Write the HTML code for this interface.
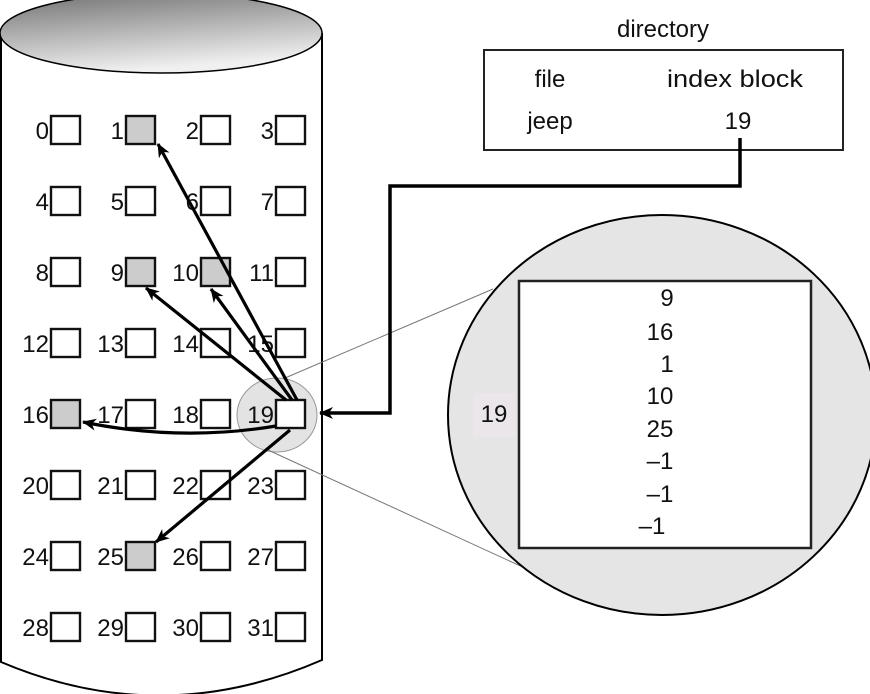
<!DOCTYPE html>
<html><head><meta charset="utf-8"><style>
html,body{margin:0;padding:0;background:#fff;}
svg{display:block;}
text{font-family:"Liberation Sans",sans-serif;font-size:24px;fill:#111;}
</style></head><body>
<svg width="870" height="694" viewBox="0 0 870 694" xmlns="http://www.w3.org/2000/svg">
<defs>
<linearGradient id="g" x1="0" y1="0" x2="0.3" y2="1">
<stop offset="0" stop-color="#707070"/><stop offset="1" stop-color="#f0f0f0"/>
</linearGradient>
<marker id="ah" markerWidth="14" markerHeight="12" refX="13" refY="6" orient="auto" markerUnits="userSpaceOnUse">
<path d="M0,0 L14,6 L0,12 L4,6 Z" fill="#000"/>
</marker>
<marker id="ah2" markerWidth="14" markerHeight="12" refX="13" refY="6" orient="auto" markerUnits="userSpaceOnUse">
<path d="M0,0 L14,6 L0,12 L4,6 Z" fill="#000"/>
</marker>
</defs>
<path d="M1,35 L1,662 Q161,730 322,660 L322,33" fill="none" stroke="#000" stroke-width="2"/>
<ellipse cx="161" cy="33" rx="161" ry="40" fill="url(#g)" stroke="#000" stroke-width="1.5"/>

<ellipse cx="277" cy="415" rx="40" ry="37" fill="#e3e3e3" stroke="#999" stroke-width="1"/>
<line x1="285" y1="378" x2="493" y2="289" stroke="#777" stroke-width="1"/>
<line x1="268" y1="450" x2="540" y2="575" stroke="#777" stroke-width="1"/>

<ellipse cx="662" cy="415" rx="214" ry="200" fill="#e5e5e5" stroke="#000" stroke-width="2"/>
<rect x="473" y="393" width="42" height="44" fill="#ebe6e9"/>
<text x="494" y="422" text-anchor="middle">19</text>
<rect x="519" y="281" width="292" height="267" fill="#fff" stroke="#222" stroke-width="2.5"/>
<g text-anchor="middle">
<text x="667" y="306">9</text>
<text x="660" y="340">16</text>
<text x="667" y="372">1</text>
<text x="660" y="404">10</text>
<text x="660" y="437">25</text>
<text x="660" y="469">–1</text>
<text x="660" y="502">–1</text>
<text x="652" y="534">–1</text>
</g>

<text x="663" y="37" text-anchor="middle">directory</text>
<rect x="484" y="50" width="359" height="100" fill="none" stroke="#222" stroke-width="2"/>
<text x="550" y="87" text-anchor="middle">file</text>
<text x="667" y="87" textLength="136" lengthAdjust="spacingAndGlyphs">index block</text>
<text x="550" y="129" text-anchor="middle">jeep</text>
<text x="738" y="129" text-anchor="middle">19</text>
<polyline points="740,138 740,186 390,186 390,413 320,413" fill="none" stroke="#000" stroke-width="3.5" marker-end="url(#ah2)"/>

<g stroke="#111" stroke-width="2.4">
<rect x="51" y="116" width="29" height="28" fill="#fff"/><rect x="126" y="116" width="29" height="28" fill="#ccc"/><rect x="201" y="116" width="29" height="28" fill="#fff"/><rect x="276" y="116" width="29" height="28" fill="#fff"/>
<rect x="51" y="187" width="29" height="28" fill="#fff"/><rect x="126" y="187" width="29" height="28" fill="#fff"/><rect x="201" y="187" width="29" height="28" fill="#fff"/><rect x="276" y="187" width="29" height="28" fill="#fff"/>
<rect x="51" y="258" width="29" height="28" fill="#fff"/><rect x="126" y="258" width="29" height="28" fill="#ccc"/><rect x="201" y="258" width="29" height="28" fill="#ccc"/><rect x="276" y="258" width="29" height="28" fill="#fff"/>
<rect x="51" y="329" width="29" height="28" fill="#fff"/><rect x="126" y="329" width="29" height="28" fill="#fff"/><rect x="201" y="329" width="29" height="28" fill="#fff"/><rect x="276" y="329" width="29" height="28" fill="#fff"/>
<rect x="51" y="400" width="29" height="28" fill="#ccc"/><rect x="126" y="400" width="29" height="28" fill="#fff"/><rect x="201" y="400" width="29" height="28" fill="#fff"/><rect x="276" y="400" width="29" height="28" fill="#fff"/>
<rect x="51" y="471" width="29" height="28" fill="#fff"/><rect x="126" y="471" width="29" height="28" fill="#fff"/><rect x="201" y="471" width="29" height="28" fill="#fff"/><rect x="276" y="471" width="29" height="28" fill="#fff"/>
<rect x="51" y="542" width="29" height="28" fill="#fff"/><rect x="126" y="542" width="29" height="28" fill="#ccc"/><rect x="201" y="542" width="29" height="28" fill="#fff"/><rect x="276" y="542" width="29" height="28" fill="#fff"/>
<rect x="51" y="613" width="29" height="28" fill="#fff"/><rect x="126" y="613" width="29" height="28" fill="#fff"/><rect x="201" y="613" width="29" height="28" fill="#fff"/><rect x="276" y="613" width="29" height="28" fill="#fff"/>
</g>
<g text-anchor="end">
<text x="49" y="139">0</text><text x="124" y="139">1</text><text x="199" y="139">2</text><text x="274" y="139">3</text>
<text x="49" y="210">4</text><text x="124" y="210">5</text><text x="199" y="210">6</text><text x="274" y="210">7</text>
<text x="49" y="281">8</text><text x="124" y="281">9</text><text x="199" y="281">10</text><text x="274" y="281">11</text>
<text x="49" y="352">12</text><text x="124" y="352">13</text><text x="199" y="352">14</text><text x="274" y="352">15</text>
<text x="49" y="423">16</text><text x="124" y="423">17</text><text x="199" y="423">18</text><text x="274" y="423">19</text>
<text x="49" y="494">20</text><text x="124" y="494">21</text><text x="199" y="494">22</text><text x="274" y="494">23</text>
<text x="49" y="565">24</text><text x="124" y="565">25</text><text x="199" y="565">26</text><text x="274" y="565">27</text>
<text x="49" y="636">28</text><text x="124" y="636">29</text><text x="199" y="636">30</text><text x="274" y="636">31</text>
</g>

<g stroke="#000" stroke-width="3.2" fill="none">
<line x1="297" y1="400" x2="158" y2="144" marker-end="url(#ah)"/>
<line x1="286" y1="400" x2="146" y2="288" marker-end="url(#ah)"/>
<line x1="292" y1="400" x2="211" y2="289" marker-end="url(#ah)"/>
<path d="M276,426 Q180,442 83,422" marker-end="url(#ah)"/>
<line x1="290" y1="430" x2="156" y2="542" marker-end="url(#ah)"/>
</g>
</svg>
</body></html>
